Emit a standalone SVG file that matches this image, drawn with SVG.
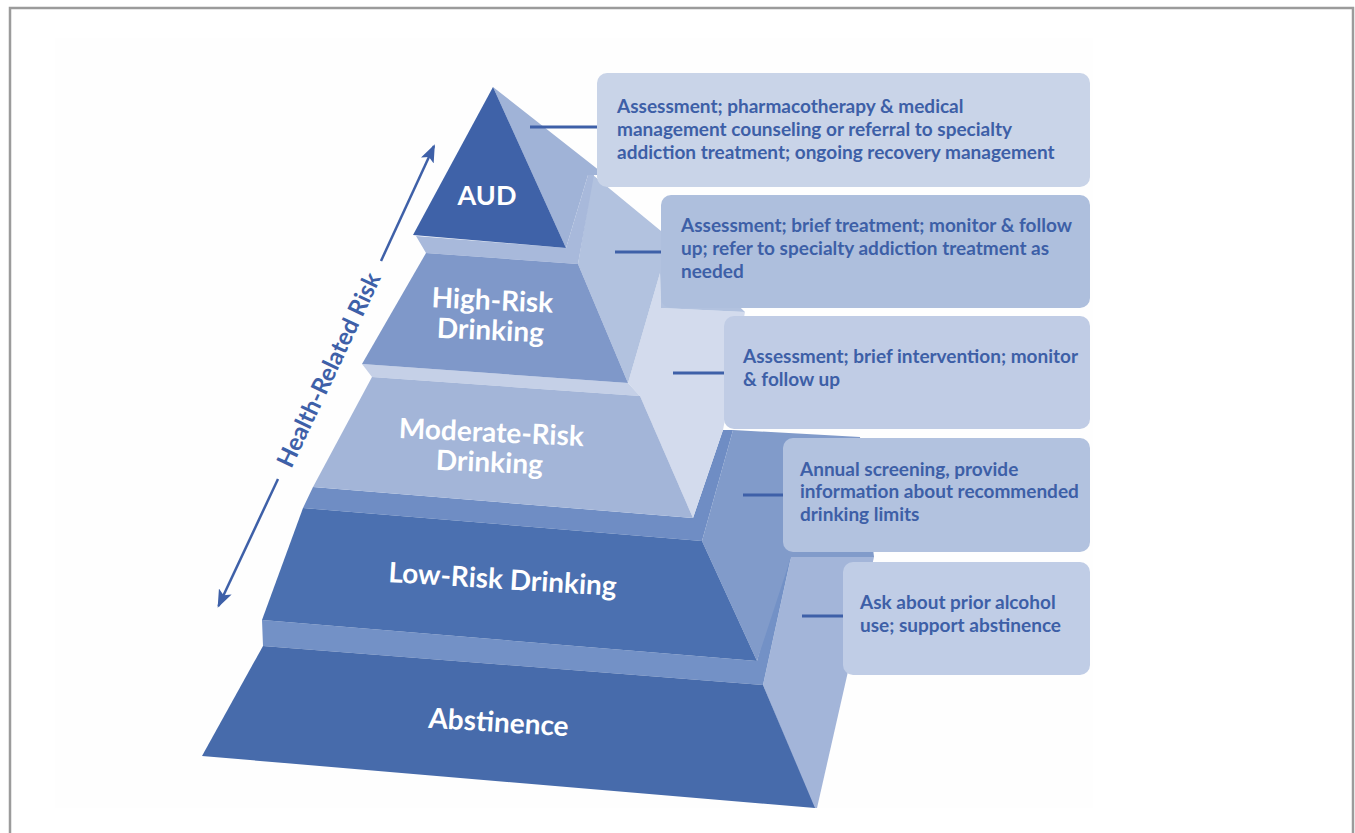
<svg xmlns="http://www.w3.org/2000/svg" width="1355" height="833" viewBox="0 0 1355 833">
<defs>
<style>
.lbl{font-family:Lato,"Liberation Sans",sans-serif;font-weight:700;font-size:28px;fill:#ffffff;text-anchor:middle}
.bt{font-family:Lato,"Liberation Sans",sans-serif;font-weight:700;font-size:19px;fill:#3d5fa7}
.box{stroke:none}
.conn{stroke:#3e60a8;stroke-width:3;fill:none}
.arr{stroke:#3e60a8;stroke-width:2.5;fill:none;marker-end:url(#ah)}
</style>
<marker id="ah" markerUnits="userSpaceOnUse" viewBox="0 0 18 14" markerWidth="18" markerHeight="14" refX="16" refY="7" orient="auto">
<path d="M0,0 L18,7 L0,14 L4,7 Z" fill="#3e60a8"/>
</marker>
</defs>
<rect x="0" y="0" width="1355" height="833" fill="#ffffff"/>
<rect x="10" y="8" width="1343" height="840" fill="#ffffff" stroke="#9b9b9b" stroke-width="2.5"/>
<rect x="55" y="38" width="1038" height="770" fill="#fefefe"/>

<g id="tier-abstinence">
<polygon points="763,685 791,557 874,557 817,808 814,808" fill="#a3b5d9"/>
<polygon points="262,620 757,661 785,557 791,557 763,685 263,646" fill="#7391c6"/>
<polygon points="263,646 763,685 815,808 202,756" fill="#476bab"/>
<text class="lbl" transform="translate(498,732) rotate(3.5)">Abstinence</text>
</g>

<g id="tier-low">
<polygon points="702,541 733,430 860,437 874,557 791,557 757,661" fill="#819bca"/>
<polygon points="313,487 693,518 723,430 733,430 702,541 303,508" fill="#6f8dc4"/>
<polygon points="303,508 702,541 757,661 262,620" fill="#4b70b0"/>
<text class="lbl" transform="translate(502,589) rotate(3.5)">Low-Risk Drinking</text>
</g>

<g id="tier-moderate">
<polygon points="628,383 660,273 661,308 745,312 723,430 693,518 640,396" fill="#d3dbed"/>
<polygon points="362,364 628,383 640,396 372,377" fill="#c5d0e7"/>
<polygon points="372,377 640,396 693,518 313,487" fill="#a3b5d8"/>
<text class="lbl" transform="translate(491,442) rotate(2.5)">Moderate-Risk</text>
<text class="lbl" transform="translate(489,472) rotate(2.5)">Drinking</text>
</g>

<g id="tier-high">
<polygon points="578,264 593,175 661,231 745,312 661,308 660,273 628,383" fill="#b2c2df"/>
<polygon points="416,236 566,248 588,175 594,175 578,264 426,253" fill="#a8b9db"/>
<polygon points="426,253 578,264 628,383 362,364" fill="#7f98c9"/>
<text class="lbl" transform="translate(492,310) rotate(2.5)">High-Risk</text>
<text class="lbl" transform="translate(490,340) rotate(2.5)">Drinking</text>
</g>

<g id="tier-aud">
<polygon points="493,87 600,171 600,175 588,175 566,248" fill="#a0b3d7"/>
<polygon points="493,87 566,248 413,235" fill="#3f62a8"/>
<text class="lbl" transform="translate(487,205)" style="font-size:27px">AUD</text>
</g>

<g id="risk-axis">
<line class="arr" x1="278" y1="479" x2="218.5" y2="606"/>
<line class="arr" x1="381" y1="261" x2="434" y2="146"/>
<text transform="translate(329,370) rotate(-64.83)" y="8" text-anchor="middle" style="font-family:Lato,'Liberation Sans',sans-serif;font-weight:700;font-size:24px;fill:#3e60a8">Health-Related Risk</text>
</g>

<g id="connectors">
<line class="conn" x1="530" y1="127" x2="598" y2="127"/>
<line class="conn" x1="615" y1="252" x2="662" y2="252"/>
<line class="conn" x1="673" y1="373" x2="725" y2="373"/>
<line class="conn" x1="743" y1="495" x2="784" y2="495"/>
<line class="conn" x1="802" y1="616" x2="844" y2="616"/>
</g>

<g id="box-aud">
<rect class="box" x="597" y="73" width="493" height="114" rx="10" fill="#c9d4e8"/>
<text class="bt" x="617" y="113">Assessment; pharmacotherapy &amp; medical</text>
<text class="bt" x="617" y="136">management counseling or referral to specialty</text>
<text class="bt" x="617" y="159">addiction treatment; ongoing recovery management</text>
</g>
<g id="box-high">
<rect class="box" x="661" y="195" width="429" height="113" rx="10" fill="#aebfdd"/>
<text class="bt" x="681" y="232">Assessment; brief treatment; monitor &amp; follow</text>
<text class="bt" x="681" y="255">up; refer to specialty addiction treatment as</text>
<text class="bt" x="681" y="278">needed</text>
</g>
<g id="box-moderate">
<rect class="box" x="724" y="316" width="366" height="113" rx="10" fill="#c0cce5"/>
<text class="bt" x="743" y="363">Assessment; brief intervention; monitor</text>
<text class="bt" x="743" y="386">&amp; follow up</text>
</g>
<g id="box-low">
<rect class="box" x="783" y="438" width="307" height="114" rx="10" fill="#b2c2df"/>
<text class="bt" x="800" y="476">Annual screening, provide</text>
<text class="bt" x="800" y="498">information about recommended</text>
<text class="bt" x="800" y="521">drinking limits</text>
</g>
<g id="box-abstinence">
<rect class="box" x="843" y="562" width="247" height="113" rx="10" fill="#c0cde6"/>
<text class="bt" x="860" y="609">Ask about prior alcohol</text>
<text class="bt" x="860" y="632">use; support abstinence</text>
</g>
</svg>
